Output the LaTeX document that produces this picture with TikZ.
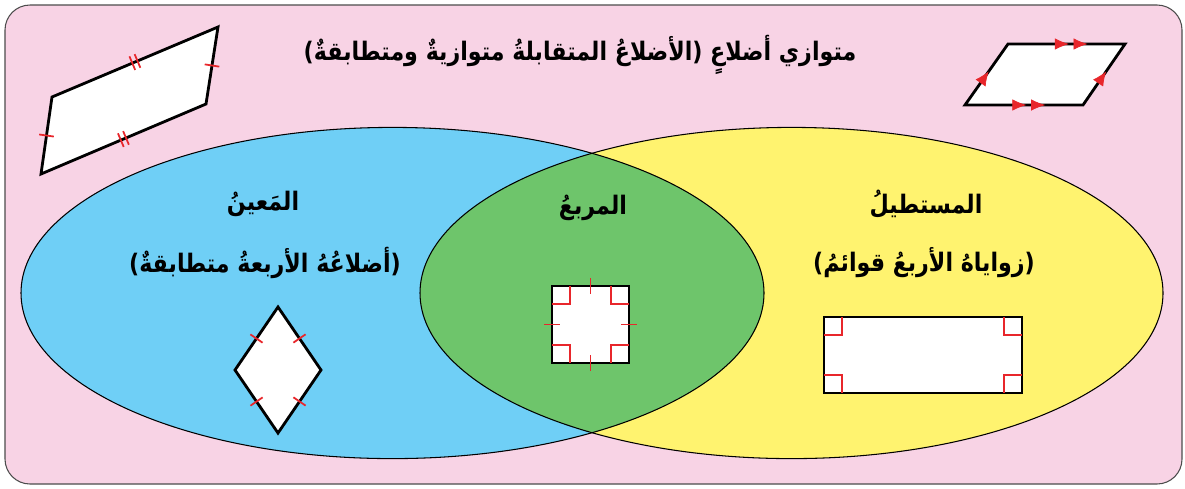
\documentclass[tikz,border=0pt]{standalone}
\usepackage{fontspec}
\newfontfamily\arabicfont[Script=Arabic,FakeStretch=0.87]{DejaVu Sans}
\TeXXeTstate=1
\usetikzlibrary{arrows.meta,decorations.markings}
\definecolor{pagepink}{HTML}{F8D3E5}
\definecolor{vennblue}{HTML}{6FCFF6}
\definecolor{vennyellow}{HTML}{FFF36F}
\definecolor{venngreen}{HTML}{6EC56B}
\definecolor{markred}{HTML}{E8262B}
\begin{document}
\begin{tikzpicture}[x=0.02cm,y=-0.02cm,>=Latex,
 frame/.style={draw=black!70,line width=0.6pt,fill=pagepink,rounded corners=0.5cm},
 rim/.style={draw=black,line width=0.6pt},
 figure/.style={draw=black,line width=1.6pt,fill=white,line join=miter},
 redmark/.style={draw=markred,line width=1pt},
 onetick/.style={decoration={markings,mark=at position 0.5 with {\draw[redmark] (0,-4.2pt) -- (0,4.2pt);}},postaction={decorate}},
 twotick/.style={decoration={markings,mark=at position 0.5 with {\draw[redmark] (-1.6pt,-4.2pt) -- (-1.6pt,4.2pt); \draw[redmark] (1.6pt,-4.2pt) -- (1.6pt,4.2pt);}},postaction={decorate}},
 onearrow/.style={decoration={markings,mark=at position 0.55 with {\arrow[markred]{Latex[length=8pt,width=7pt]}}},postaction={decorate}},
 twoarrow/.style={decoration={markings,mark=at position 0.52 with {\arrow[markred]{Latex[length=8pt,width=6.5pt]}},mark=at position 0.68 with {\arrow[markred]{Latex[length=8pt,width=6.5pt]}}},postaction={decorate}},
 lbl/.style={font=\arabicfont\bfseries\fontsize{14.5}{17}\selectfont,inner sep=0pt}]
 \useasboundingbox (0,0) rectangle (1185,488);
 \path[frame] (5,5) rectangle (1182,484);

 % venn regions
 \fill[vennblue] (392.5,293) ellipse [x radius=371.5,y radius=165.6];
 \fill[vennyellow] (791.5,293) ellipse [x radius=371.5,y radius=165.6];
 \begin{scope}
  \clip (392.5,293) ellipse [x radius=371.5,y radius=165.6];
  \fill[venngreen] (791.5,293) ellipse [x radius=371.5,y radius=165.6];
 \end{scope}
 \draw[rim] (392.5,293) ellipse [x radius=371.5,y radius=165.6];
 \draw[rim] (791.5,293) ellipse [x radius=371.5,y radius=165.6];

 % labels
 \node[lbl] (title) at (580,55) {\beginR متوازي أضلاعٍ (الأضلاعُ المتقابلةُ متوازيةٌ ومتطابقةٌ)\endR};
 \node[lbl] (rhombus) at (263,204) {\beginR المَعينُ\endR};
 \node[lbl] (rhombusnote) at (265,263) {\beginR (أضلاعُهُ الأربعةُ متطابقةٌ)\endR};
 \node[lbl] (square) at (593,208) {\beginR المربعُ\endR};
 \node[lbl] (rectangle) at (926,204) {\beginR المستطيلُ\endR};
 \node[lbl] (rectanglenote) at (924,263) {\beginR (زواياهُ الأربعُ قوائمُ)\endR};

 % parallelogram with ticks
 \coordinate (pa) at (52,97); \coordinate (pb) at (218,27);
 \coordinate (pc) at (206,104); \coordinate (pd) at (41,174);
 \path[figure] (pa) -- (pb) -- (pc) -- (pd) -- cycle;
 \path[twotick] (pa) -- (pb); \path[twotick] (pd) -- (pc);
 \path[onetick] (pb) -- (pc); \path[onetick] (pd) -- (pa);

 % parallelogram with arrows
 \coordinate (qa) at (965,105); \coordinate (qb) at (1008,44);
 \coordinate (qc) at (1125,44); \coordinate (qd) at (1083,105);
 \path[figure] (qa) -- (qb) -- (qc) -- (qd) -- cycle;
 \path[twoarrow] (qb) -- (qc); \path[twoarrow] (qa) -- (qd);
 \path[onearrow] (qa) -- (qb); \path[onearrow] (qd) -- (qc);

 % rhombus
 \coordinate (ra) at (278,307); \coordinate (rb) at (321,370);
 \coordinate (rc) at (278,433); \coordinate (rd) at (235,370);
 \path[figure] (ra) -- (rb) -- (rc) -- (rd) -- cycle;
 \foreach \u/\v in {ra/rb,rb/rc,rc/rd,rd/ra}
  \path[onetick] (\u) -- (\v);

 % square
 \path[figure] (552,286) coordinate (sa) rectangle (629,363) coordinate (sc);
 \draw[redmark] (552,304) -| (570,286);
 \draw[redmark] (629,304) -| (611,286);
 \draw[redmark] (552,345) -| (570,363);
 \draw[redmark] (629,345) -| (611,363);
 \draw[redmark] (590.5,278) -- (590.5,294);
 \draw[redmark] (590.5,355) -- (590.5,371);
 \draw[redmark] (544,324.5) -- (560,324.5);
 \draw[redmark] (621,324.5) -- (637,324.5);

 % rectangle
 \path[figure] (824,317) coordinate (ta) rectangle (1022,393) coordinate (tc);
 \draw[redmark] (824,335) -| (842,317);
 \draw[redmark] (1022,335) -| (1004,317);
 \draw[redmark] (824,375) -| (842,393);
 \draw[redmark] (1022,375) -| (1004,393);
\end{tikzpicture}
\end{document}
